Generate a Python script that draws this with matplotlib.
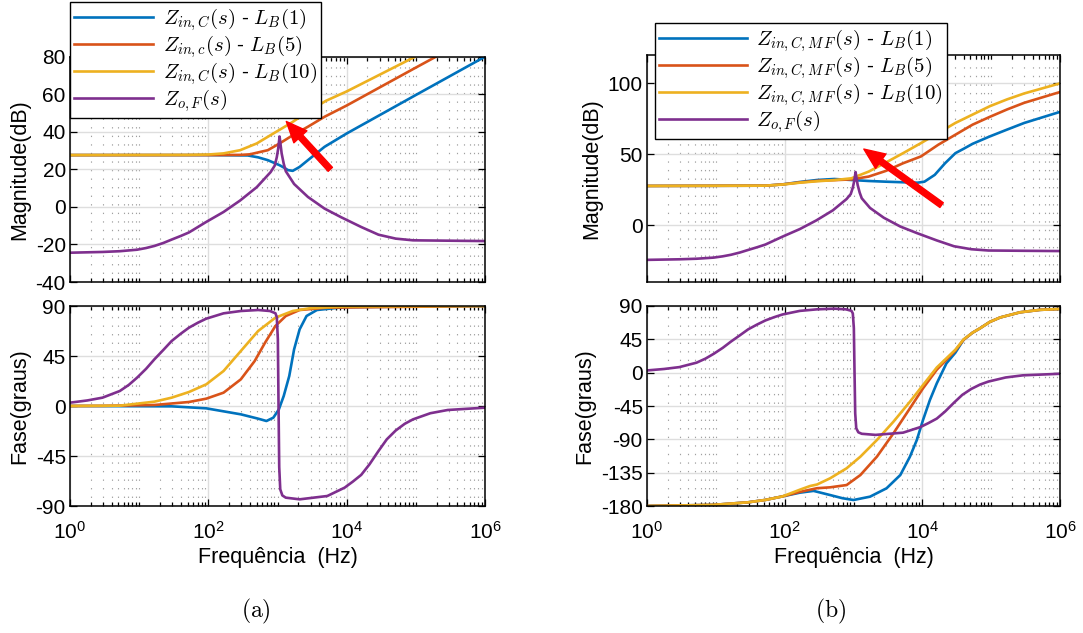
import numpy as np
import matplotlib
matplotlib.use("Agg")
import matplotlib.pyplot as plt
from matplotlib.font_manager import FontProperties
from matplotlib.ticker import FixedLocator, LogLocator, NullFormatter, LogFormatterSciNotation

plt.rcParams["font.family"] = ["Liberation Sans", "DejaVu Sans"]
plt.rcParams["mathtext.fontset"] = "custom"
plt.rcParams["mathtext.rm"] = "Liberation Sans"
plt.rcParams["mathtext.it"] = "Liberation Sans:italic"
plt.rcParams["mathtext.bf"] = "Liberation Sans:bold"
plt.rcParams["axes.unicode_minus"] = False

# ---------------- data ----------------
# Z_o,F(s) (shared by both figures)
f_zo_mag = [1, 2.95, 5.25, 9.33, 12.6, 16.6, 22.4, 29.5, 39.8, 52.5, 93.3, 166, 288, 501,
            794, 912, 977, 1023, 1072, 1109, 1148, 1230, 1318, 1738, 2754, 4786, 8318,
            16218, 28840, 51286, 91201, 1e6]
zo_mag = [-24.4, -24.0, -23.6, -22.8, -21.9, -20.8, -19.2, -17.4, -15.5, -13.6, -8.0, -2.7,
          3.4, 10.5, 18.5, 22.0, 26.5, 31.0, 37.5, 33.0, 28.5, 23.0, 19.0, 12.2, 5.3, -0.9,
          -5.5, -10.7, -14.8, -16.9, -17.8, -18.2]
f_zo_ph = [1, 1.78, 2.95, 5.25, 7.08, 9.33, 12.6, 16.6, 22.4, 29.5, 39.8, 52.5, 70.8, 93.3,
           166, 295, 525, 776, 933, 977, 1012, 1035, 1059, 1096, 1175, 1318, 2089, 5248,
           9333, 12303, 16218, 21380, 28840, 38019, 51286, 69183, 91201, 162181, 288403, 1e6]
zo_ph = [3.0, 5.0, 7.5, 13.5, 19.0, 25.5, 33.5, 42.0, 50.5, 58.5, 65.0, 70.5, 75.0, 78.6,
         83.4, 85.5, 86.4, 85.5, 83.5, 80.0, 60.0, 0.0, -55.0, -75.0, -80.5, -82.5, -84.0,
         -81.0, -73.5, -68.0, -62.0, -52.5, -40.5, -30.0, -22.0, -16.0, -12.0, -6.5, -3.6,
         -1.5]

# (a) Z_in,C(s) magnitude
fa_lb1 = [1, 30, 100, 372, 525, 724, 1072, 1259, 1413, 1660, 2089, 2754, 4786, 10000,
          100000, 1e6]
ma_lb1 = [27.6, 27.6, 27.6, 27.4, 26.4, 24.9, 22.2, 20.8, 19.6, 19.2, 21.3, 24.9, 32.0,
          39.1, 59.6, 80.0]
fa_lb5 = [1, 100, 295, 398, 724, 1072, 1585, 2754, 4786, 10000, 100000, 194984]
ma_lb5 = [27.6, 27.6, 27.7, 28.0, 30.2, 33.8, 37.7, 42.7, 48.0, 54.0, 74.2, 80.0]
fa_lb10 = [1, 50, 100, 166, 288, 501, 871, 1585, 2754, 5012, 10000, 97724]
ma_lb10 = [27.6, 27.7, 27.9, 28.5, 30.2, 33.8, 39.1, 44.8, 50.7, 56.5, 61.5, 80.0]

# (a) Z_in,C(s) phase
fa_ph_lb1 = [1, 29.5, 93.3, 295, 525, 692, 871, 1047, 1230, 1479, 1738, 2089, 2630, 3715,
             9333, 1e6]
pa_lb1 = [0.0, -0.3, -2.1, -7.5, -11.4, -13.5, -10.5, -3.0, 9.0, 27.0, 51.0, 69.0, 81.0,
          86.4, 89.0, 90.0]
fa_ph_lb5 = [1, 2.95, 16.6, 52.5, 93.3, 166, 295, 468, 661, 933, 1318, 2089, 5248, 1e6]
pa_lb5 = [0.0, 0.1, 0.9, 3.6, 6.6, 12.0, 24.0, 40.5, 57.0, 72.0, 81.0, 86.4, 88.5, 90.0]
fa_ph_lb10 = [1, 5.25, 16.6, 29.5, 52.5, 93.3, 166, 295, 525, 933, 1660, 2951, 9333, 1e6]
pa_lb10 = [0.0, 0.3, 3.9, 7.5, 12.6, 19.5, 31.5, 49.5, 67.5, 79.5, 85.5, 88.0, 89.5, 90.0]

# (b) Z_in,C,MF(s) magnitude
fb_lb1 = [1, 52.5, 93.3, 166, 295, 525, 933, 1660, 2951, 5248, 8511, 10715, 15136, 21380,
          30200, 39811, 53703, 95499, 169824, 301995, 1e6]
mb_lb1 = [27.7, 27.9, 28.8, 30.5, 31.9, 32.6, 31.9, 31.2, 30.7, 30.3, 30.0, 30.7, 35.5,
          43.7, 50.8, 53.9, 57.4, 62.6, 67.4, 72.1, 79.9]
fb_mag = [1, 52.5, 93.3, 166, 295, 525, 933, 1660, 2951, 5248, 9550, 16982, 30200, 53703,
          95499, 169824, 301995, 1e6]
mb_lb5 = [27.7, 27.9, 28.8, 30.2, 31.3, 31.8, 32.3, 34.3, 38.3, 43.7, 48.5, 56.7, 63.8,
          70.9, 76.4, 81.6, 86.3, 93.9]
mb_lb10 = [27.7, 27.9, 28.7, 30.0, 31.0, 31.8, 33.1, 37.8, 44.2, 50.8, 57.9, 65.0, 72.1,
           78.0, 83.9, 88.7, 92.9, 100.0]

# (b) Z_in,C,MF(s) phase
fb_ph_lb1 = [1, 9.12, 29.5, 52.5, 93.3, 166, 263, 457, 692, 1000, 1738, 3020, 4786, 6607,
             8318, 10233, 12882, 16218, 22387, 30200, 39811, 53703, 69183, 95499, 134896,
             263027, 512861, 1e6]
pb_lb1 = [-180, -178.5, -175, -171.8, -167, -162, -159.6, -165.2, -169.5, -171.9, -167.4,
          -156.1, -138.2, -113.4, -90.9, -63.9, -36.9, -14.4, 12.6, 27.0, 44.5, 54.0, 60.0,
          68.5, 74.5, 81.5, 84.8, 86.0]
fb_ph = [1, 9.12, 29.5, 52.5, 93.3, 166, 234, 295, 457, 794, 1259, 2188, 3802, 6607,
         10233, 16218, 30200, 39811, 53703, 69183, 95499, 134896, 263027, 512861, 1e6]
pb_lb5 = [-180, -178.5, -175, -171.8, -167, -161, -158, -156, -154.8, -151.7, -138.2,
          -113.4, -81.9, -48.1, -21.1, 4.0, 30.0, 44.5, 54.0, 60.0, 68.5, 74.5, 81.5, 84.8,
          86.0]
pb_lb10 = [-180, -178.5, -175, -171.8, -167, -158, -153, -151, -142.6, -129.1, -113.4,
           -90.9, -66.2, -39.2, -16.7, 7.0, 31.0, 45.0, 54.0, 60.0, 68.5, 74.5, 81.5, 84.8,
           86.0]

labels_a = [r"$Z_{in,C}(s)$ - $L_B(1)$", r"$Z_{in,c}(s)$ - $L_B(5)$",
            r"$Z_{in,C}(s)$ - $L_B(10)$", r"$Z_{o,F}(s)$"]
labels_b = [r"$Z_{in,C,M\,F}(s)$ - $L_B(1)$", r"$Z_{in,C,M\,F}(s)$ - $L_B(5)$",
            r"$Z_{in,C,M\,F}(s)$ - $L_B(10)$", r"$Z_{o,F}(s)$"]

mag_ticks_a = [-40, -20, 0, 20, 40, 60, 80]
mag_ticks_b = [0, 50, 100]
ph_ticks_a = [-90, -45, 0, 45, 90]
ph_ticks_b = [-180, -135, -90, -45, 0, 45, 90]
freq_ticks = [1, 1e2, 1e4, 1e6]

# arrow annotations (frequency in Hz, value in dB): tip, tail
arrow_a = ((1340, 45.5), (5800, 20.0))
arrow_b = ((1413, 53.7), (19055, 14.2))

colors = ["#0072BD", "#D95319", "#EDB120", "#7E2F8E"]
LW = 1.9
FS_TICK = 15
FS_LABEL = 15.5

# ---------------- figure ----------------
fig = plt.figure(figsize=(10.83, 6.33), dpi=100)
W, H = 1083, 633


def add_axes(x0, x1, y0, y1):
    return fig.add_axes([x0 / W, 1 - y1 / H, (x1 - x0) / W, (y1 - y0) / H])


def style(ax, yticks, ylim, show_x):
    ax.set_xscale("log")
    ax.set_xlim(1, 1e6)
    ax.set_ylim(*ylim)
    ax.xaxis.set_major_locator(FixedLocator(freq_ticks))
    ax.xaxis.set_major_formatter(LogFormatterSciNotation())
    ax.xaxis.set_minor_locator(LogLocator(base=10, subs=np.arange(1, 10), numticks=100))
    ax.xaxis.set_minor_formatter(NullFormatter())
    ax.yaxis.set_major_locator(FixedLocator(yticks))
    ax.set_yticklabels([str(t) for t in yticks])
    ax.tick_params(which="both", direction="in", top=True, right=True, labelsize=FS_TICK,
                   width=0.9, colors="black")
    ax.tick_params(which="major", length=5)
    ax.tick_params(which="minor", length=3)
    ax.tick_params(axis="y", pad=3)
    ax.tick_params(axis="x", pad=11)
    if not show_x:
        ax.tick_params(labelbottom=False)
    ax.set_axisbelow(True)
    ax.grid(which="major", color="#dedede", lw=1.0, ls="-")
    ax.grid(which="minor", axis="x", color="#a0a0a0", lw=0.8, ls=(0, (1.2, 6.5)))
    for s in ax.spines.values():
        s.set_linewidth(1.1)
        s.set_color("black")


leg_font = FontProperties(family="Liberation Sans", size=15, math_fontfamily="cm")


def legend(ax, handles, labels, x, y, hlen):
    lg = ax.legend(handles, labels, loc="upper left", bbox_to_anchor=(x / W, 1 - y / H),
                   bbox_transform=fig.transFigure, prop=leg_font, frameon=True,
                   fancybox=False, framealpha=1, edgecolor="black", borderpad=0.2,
                   handlelength=hlen, handletextpad=0.45, labelspacing=0.0,
                   borderaxespad=0)
    lg.get_frame().set_linewidth(1.0)
    lg.set_zorder(10)


def arrow(ax, spec):
    tip, tail = spec
    ax.annotate("", xy=tip, xytext=tail, zorder=12,
                arrowprops=dict(arrowstyle="simple,head_length=1.0,head_width=0.85,tail_width=0.28",
                                color="#ff0000", mutation_scale=15, shrinkA=0, shrinkB=0))


# (a) magnitude
ax = add_axes(70, 485, 56.7, 282)
style(ax, mag_ticks_a, (-40, 80), False)
h = []
h += ax.plot(fa_lb1, ma_lb1, color=colors[0], lw=LW)
h += ax.plot(fa_lb5, ma_lb5, color=colors[1], lw=LW)
h += ax.plot(fa_lb10, ma_lb10, color=colors[2], lw=LW)
h += ax.plot(f_zo_mag, zo_mag, color=colors[3], lw=LW)
ax.set_ylabel("Magnitude(dB)", fontsize=FS_LABEL)
arrow(ax, arrow_a)
legend(ax, h, labels_a, 70, 2, 3.8)

# (a) phase
ax = add_axes(70, 485, 306, 506)
style(ax, ph_ticks_a, (-90, 90), True)
ax.plot(fa_ph_lb1, pa_lb1, color=colors[0], lw=LW)
ax.plot(fa_ph_lb5, pa_lb5, color=colors[1], lw=LW)
ax.plot(fa_ph_lb10, pa_lb10, color=colors[2], lw=LW)
ax.plot(f_zo_ph, zo_ph, color=colors[3], lw=LW)
ax.set_ylabel("Fase(graus)", fontsize=FS_LABEL)
ax.set_xlabel("Frequência  (Hz)", fontsize=FS_LABEL, labelpad=3)

# (b) magnitude
ax = add_axes(647, 1060, 55, 282)
style(ax, mag_ticks_b, (-40, 120), False)
h = []
h += ax.plot(fb_lb1, mb_lb1, color=colors[0], lw=LW)
h += ax.plot(fb_mag, mb_lb5, color=colors[1], lw=LW)
h += ax.plot(fb_mag, mb_lb10, color=colors[2], lw=LW)
h += ax.plot(f_zo_mag, zo_mag, color=colors[3], lw=LW)
ax.set_ylabel("Magnitude(dB)", fontsize=FS_LABEL)
arrow(ax, arrow_b)
legend(ax, h, labels_b, 655, 23, 4.2)

# (b) phase
ax = add_axes(647, 1060, 306, 506)
style(ax, ph_ticks_b, (-180, 90), True)
ax.plot(fb_ph_lb1, pb_lb1, color=colors[0], lw=LW)
ax.plot(fb_ph, pb_lb5, color=colors[1], lw=LW)
ax.plot(fb_ph, pb_lb10, color=colors[2], lw=LW)
ax.plot(f_zo_ph, zo_ph, color=colors[3], lw=LW)
ax.set_ylabel("Fase(graus)", fontsize=FS_LABEL)
ax.set_xlabel("Frequência  (Hz)", fontsize=FS_LABEL, labelpad=3)

# sub-figure captions
fig.text(256 / W, 1 - 611 / H, r"$\mathrm{(a)}$", ha="center", va="center", fontsize=17,
         math_fontfamily="cm")
fig.text(831 / W, 1 - 611 / H, r"$\mathrm{(b)}$", ha="center", va="center", fontsize=17,
         math_fontfamily="cm")

fig.savefig("out.png", dpi=100)
